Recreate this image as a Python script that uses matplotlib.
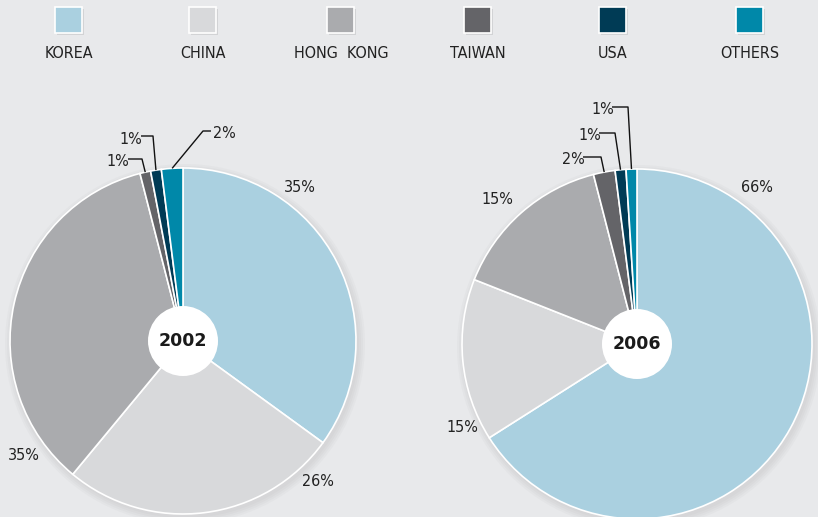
import numpy as np
import matplotlib
matplotlib.use("Agg")
import matplotlib.pyplot as plt
from matplotlib.patches import Circle, Rectangle

# ---- data ----
countries = ["KOREA", "CHINA", "HONG  KONG", "TAIWAN", "USA", "OTHERS"]
colors = ["#aad0e0", "#d8d9db", "#aaabae", "#646468", "#003b55", "#0088a9"]
years = ["2002", "2006"]
share_2002 = [35, 26, 35, 1, 1, 2]
share_2006 = [66, 15, 15, 2, 1, 1]

W, H = 818, 517
BG = "#e8e9eb"
LABEL_FONT = dict(family=["DejaVu Sans"], fontstretch="condensed")

fig = plt.figure(figsize=(W / 100, H / 100), dpi=100, facecolor=BG)
ax = fig.add_axes([0, 0, 1, 1])
ax.set_facecolor(BG)

def Y(y):  # image-y to data-y
    return H - y

# ---- legend ----
legend_x = [68, 202, 340, 477, 612, 749]
for name, col, lx in zip(countries, colors, legend_x):
    ax.add_patch(Rectangle((lx - 13 + 2, Y(33) - 2), 27, 26, facecolor="#c4c5c7",
                           edgecolor="none", alpha=0.6, zorder=1))
    ax.add_patch(Rectangle((lx - 13, Y(33)), 27, 26, facecolor=col,
                           edgecolor="white", linewidth=1.2, zorder=2))
    ax.text(lx + 1, Y(53), name, ha="center", va="center", fontsize=11.5,
            color="#222222", zorder=3, **LABEL_FONT)

# ---- pies ----
pies = [
    dict(values=share_2002, year=years[0], c=(183, 341), r=173,
         labels=[(300, 187), (318, 481), (24, 455), (118, 162), (131, 139), (224, 134)],
         leaders={3: (128, 142), 4: (141, 153), 5: (211, 203)}),
    dict(values=share_2006, year=years[1], c=(637, 344), r=175,
         labels=[(757, 187), (462, 428), (497, 200), (573, 160), (590, 136), (603, 110)],
         leaders={3: (583, 601), 4: (599, 615), 5: (612, 628)}),
]

for p in pies:
    cx, cy = p["c"][0], Y(p["c"][1])
    r = p["r"]
    # soft shadow
    for k in range(4):
        ax.add_patch(Circle((cx + 2, cy - 3), r + 1 + 2 * k, facecolor="#909090",
                            edgecolor="none", alpha=0.05, zorder=1))
    wedges, _ = ax.pie(p["values"], colors=colors, startangle=90, counterclock=False,
                       center=(cx, cy), radius=r,
                       wedgeprops=dict(edgecolor="white", linewidth=1.2))
    for w in wedges:
        w.set_zorder(2)
    # center hole
    ax.add_patch(Circle((cx, cy), 35, facecolor="white", edgecolor="none", zorder=4))
    ax.text(cx, cy, p["year"], ha="center", va="center", fontsize=12.5,
            fontweight="bold", family=["DejaVu Sans"], color="#1a1a1a", zorder=5)
    # labels
    total = sum(p["values"])
    cum = 0
    for i, v in enumerate(p["values"]):
        mid = 90 - 360 * (cum + v / 2) / total
        cum += v
        lx, ly = p["labels"][i]
        ax.text(lx, Y(ly), f"{v}%", ha="center", va="center", fontsize=11.5,
                color="#222222", zorder=5, **LABEL_FONT)
        if i in p["leaders"]:
            x0, xe = p["leaders"][i]
            ex = cx + r * np.cos(np.radians(mid))
            ey = cy + r * np.sin(np.radians(mid))
            ax.plot([x0, xe, ex], [Y(ly) + 3, Y(ly) + 3, ey], color="#111111",
                    linewidth=1.0, zorder=3, solid_capstyle="butt")

ax.set_xlim(0, W)
ax.set_ylim(0, H)
ax.set_aspect("equal")
ax.axis("off")
fig.savefig("out.png", dpi=100, facecolor=BG)
